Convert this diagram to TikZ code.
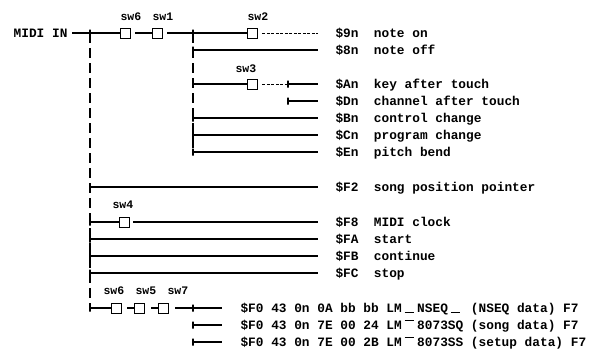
\documentclass[tikz,border=0pt]{standalone}
\usepackage{fontspec}
\usepackage{tikz}
\usetikzlibrary{positioning}
\newfontfamily\midifont{Liberation Mono}
\newcommand\lowgap{\makebox[1.2em]{\rule[-0.3pt]{0.75em}{0.7pt}}}
\newcommand\highgap{\makebox[1.2em]{\rule[9pt]{0.75em}{0.7pt}}}

\begin{document}
\begin{tikzpicture}[x=1pt, y=-1pt, line width=1.1pt,
  swbox/.style={draw, rectangle, minimum width=10pt, minimum height=10pt, inner sep=0pt, line width=0.9pt},
  jtick/.style={draw, rectangle, minimum width=0pt, minimum height=7pt, inner sep=0pt},
  msg/.style={font=\midifont\bfseries\fontsize{12.8}{14}\selectfont, inner sep=0pt, text height=9pt, text depth=0pt, anchor=west},
  swlabel/.style={font=\midifont\bfseries\fontsize{11.5}{13}\selectfont, inner sep=0pt, anchor=base west},
  bus/.style={dash pattern=on 10pt off 5pt, line width=1.3pt},
  faint/.style={dash pattern=on 3pt off 1.5pt, line width=0.8pt},
  feed/.style={shorten >=17pt},
  sxfeed/.style={shorten >=18pt}]
\useasboundingbox (0,0) rectangle (599,348);

% Input and switches
\node[msg, anchor=east] (midiin) at (68,33) {MIDI IN};
\node[jtick] (j0) at (90,33) {};
\node[swbox] (sw6a) at (125,33) {};
\node[swbox] (sw1) at (157,33) {};
\node[jtick] (j1) at (193,33) {};
\node[swbox] (sw2) at (252,33) {};
\node[swlabel] at (120,20) {sw6};
\node[swlabel] at (152,20) {sw1};
\node[swlabel] at (247,20) {sw2};

% Channel messages
\node[msg] (non) at (335,33) {\$9n~~note on};
\node[msg] (noff) at (335,50) {\$8n~~note off};
\node[msg] (kat) at (335,84) {\$An~~key after touch};
\node[msg] (cat) at (335,101) {\$Dn~~channel after touch};
\node[msg] (cc) at (335,118) {\$Bn~~control change};
\node[msg] (pc) at (335,135) {\$Cn~~program change};
\node[msg] (pb) at (335,152) {\$En~~pitch bend};

\node[jtick] (jnoff) at (193,50) {};
\node[jtick] (jkat) at (193,84) {};
\node[swbox] (sw3) at (252,84) {};
\node[swlabel] at (235,72) {sw3};
\node[jtick] (jkat2) at (288,84) {};
\node[jtick] (jcat) at (288,101) {};
\node[jtick] (jcc) at (193,118) {};
\node[jtick] (jpc) at (193,135) {};
\node[jtick] (jpb) at (193,152) {};

% System messages
\node[msg] (spp) at (335,187) {\$F2~~song position pointer};
\node[msg] (clk) at (335,222) {\$F8~~MIDI clock};
\node[msg] (start) at (335,239) {\$FA~~start};
\node[msg] (cont) at (335,256) {\$FB~~continue};
\node[msg] (stop) at (335,273) {\$FC~~stop};

\node[jtick] (jspp) at (90,187) {};
\node[jtick] (jclk) at (90,222) {};
\node[swbox] (sw4) at (124,222) {};
\node[swlabel] at (112,208) {sw4};
\node[jtick] (jstart) at (90,239) {};
\node[jtick] (jcont) at (90,256) {};
\node[jtick] (jstop) at (90,273) {};

% Exclusive messages
\node[jtick] (jsx) at (90,308) {};
\node[swbox] (sw6b) at (116,308) {};
\node[swbox] (sw5) at (139,308) {};
\node[swbox] (sw7) at (163,308) {};
\node[swlabel] at (103,294) {sw6};
\node[swlabel] at (135,294) {sw5};
\node[swlabel] at (167,294) {sw7};
\node[jtick] (jsx1) at (193,308) {};
\node[jtick] (jsx2) at (193,325) {};
\node[jtick] (jsx3) at (193,342) {};
\node[msg] (sx1) at (240,308) {\$F0 43 0n 0A bb bb LM\lowgap NSEQ\lowgap~(NSEQ data) F7};
\node[msg] (sx2) at (240,325) {\$F0 43 0n 7E 00 24 LM\highgap 8073SQ (song data) F7};
\node[msg] (sx3) at (240,342) {\$F0 43 0n 7E 00 2B LM\highgap 8073SS (setup data) F7};

% Bus lines
\draw[bus] (j0.center) -- (jsx.center);
\draw[bus] (j1.center) -- (jpb.center);

% Connectors
\draw ([xshift=4pt]midiin.east) -- (j0.center) -- (sw6a);
\draw ([xshift=5pt]sw6a.east) -- (sw1);
\draw ([xshift=5pt]sw1.east) -- (j1.center) -- (sw2);
\draw[feed, faint] ([xshift=5pt]sw2.east) -- (non);
\draw[feed] (jnoff.center) -- (noff);
\draw (jkat.center) -- (sw3);
\draw[faint] ([xshift=5pt]sw3.east) -- (jkat2.center);
\draw[feed] (jkat2.center) -- (kat);
\draw[feed] (jcat.center) -- (cat);
\draw[feed] (jcc.center) -- (cc);
\draw[feed] (jpc.center) -- (pc);
\draw[feed] (jpb.center) -- (pb);
\draw[feed] (jspp.center) -- (spp);
\draw (jclk.center) -- (sw4);
\draw[feed] ([xshift=4pt]sw4.east) -- (clk);
\draw[feed] (jstart.center) -- (start);
\draw[feed] (jcont.center) -- (cont);
\draw[feed] (jstop.center) -- (stop);
\draw (jsx.center) -- (sw6b);
\draw ([xshift=6pt]sw6b.east) -- (sw5);
\draw ([xshift=7pt]sw5.east) -- (sw7);
\draw ([xshift=7pt]sw7.east) -- (jsx1.center);
\draw[sxfeed] (jsx1.center) -- (sx1);
\draw[sxfeed] (jsx2.center) -- (sx2);
\draw[sxfeed] (jsx3.center) -- (sx3);
\end{tikzpicture}
\end{document}
